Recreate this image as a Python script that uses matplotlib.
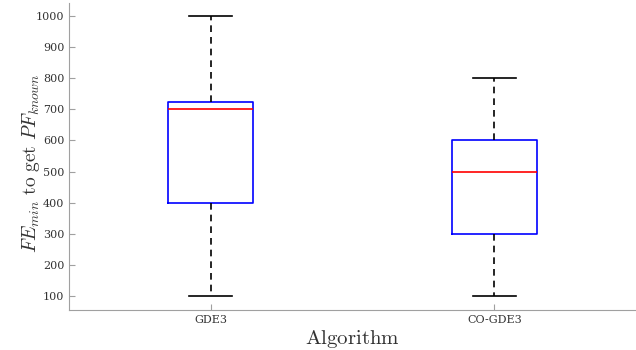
import matplotlib
matplotlib.use('Agg')
import matplotlib.pyplot as plt

plt.rcParams['mathtext.fontset'] = 'cm'
plt.rcParams['font.family'] = 'DejaVu Serif'

# box statistics
algorithms = ['GDE3', 'CO-GDE3']
whislo = [100, 100]
q1 = [400, 300]
med = [700, 500]
q3 = [725, 600]
whishi = [1000, 800]

stats = []
for i, name in enumerate(algorithms):
    stats.append(dict(label=name, whislo=whislo[i], q1=q1[i], med=med[i],
                      q3=q3[i], whishi=whishi[i], fliers=[]))

fig = plt.figure(figsize=(6.36, 3.5), dpi=100)
ax = fig.add_axes([69/636, 40/350, 567/636, 307/350])

ax.bxp(stats, positions=[1, 2], widths=0.3, showfliers=False,
       boxprops=dict(color='#0000ff', linewidth=1.2),
       medianprops=dict(color='#ff0000', linewidth=1.2),
       whiskerprops=dict(color='black', linestyle=(0, (4, 3)), linewidth=1.2),
       capprops=dict(color='black', linewidth=1.2),
       capwidths=0.15)

ax.set_xlim(0.5, 2.5)
ax.set_ylim(55, 1042)
ax.set_yticks(range(100, 1001, 100))

for s in ['top', 'right']:
    ax.spines[s].set_visible(False)
for s in ['left', 'bottom']:
    ax.spines[s].set_color('#a0a0a0')
ax.tick_params(direction='in', color='#a0a0a0', labelsize=8, labelcolor='#333333', length=4)

ax.set_xlabel(r'$\mathrm{Algorithm}$', fontsize=15, color='#333333', labelpad=2)
ax.set_ylabel(r'$FE_{min}\ \mathrm{to\ get}\ PF_{known}$', fontsize=14, color='#333333', labelpad=2)
ax.yaxis.set_label_coords(-27/567, (350 - 163 - 40) / 307)

fig.savefig('out.png', dpi=100)
